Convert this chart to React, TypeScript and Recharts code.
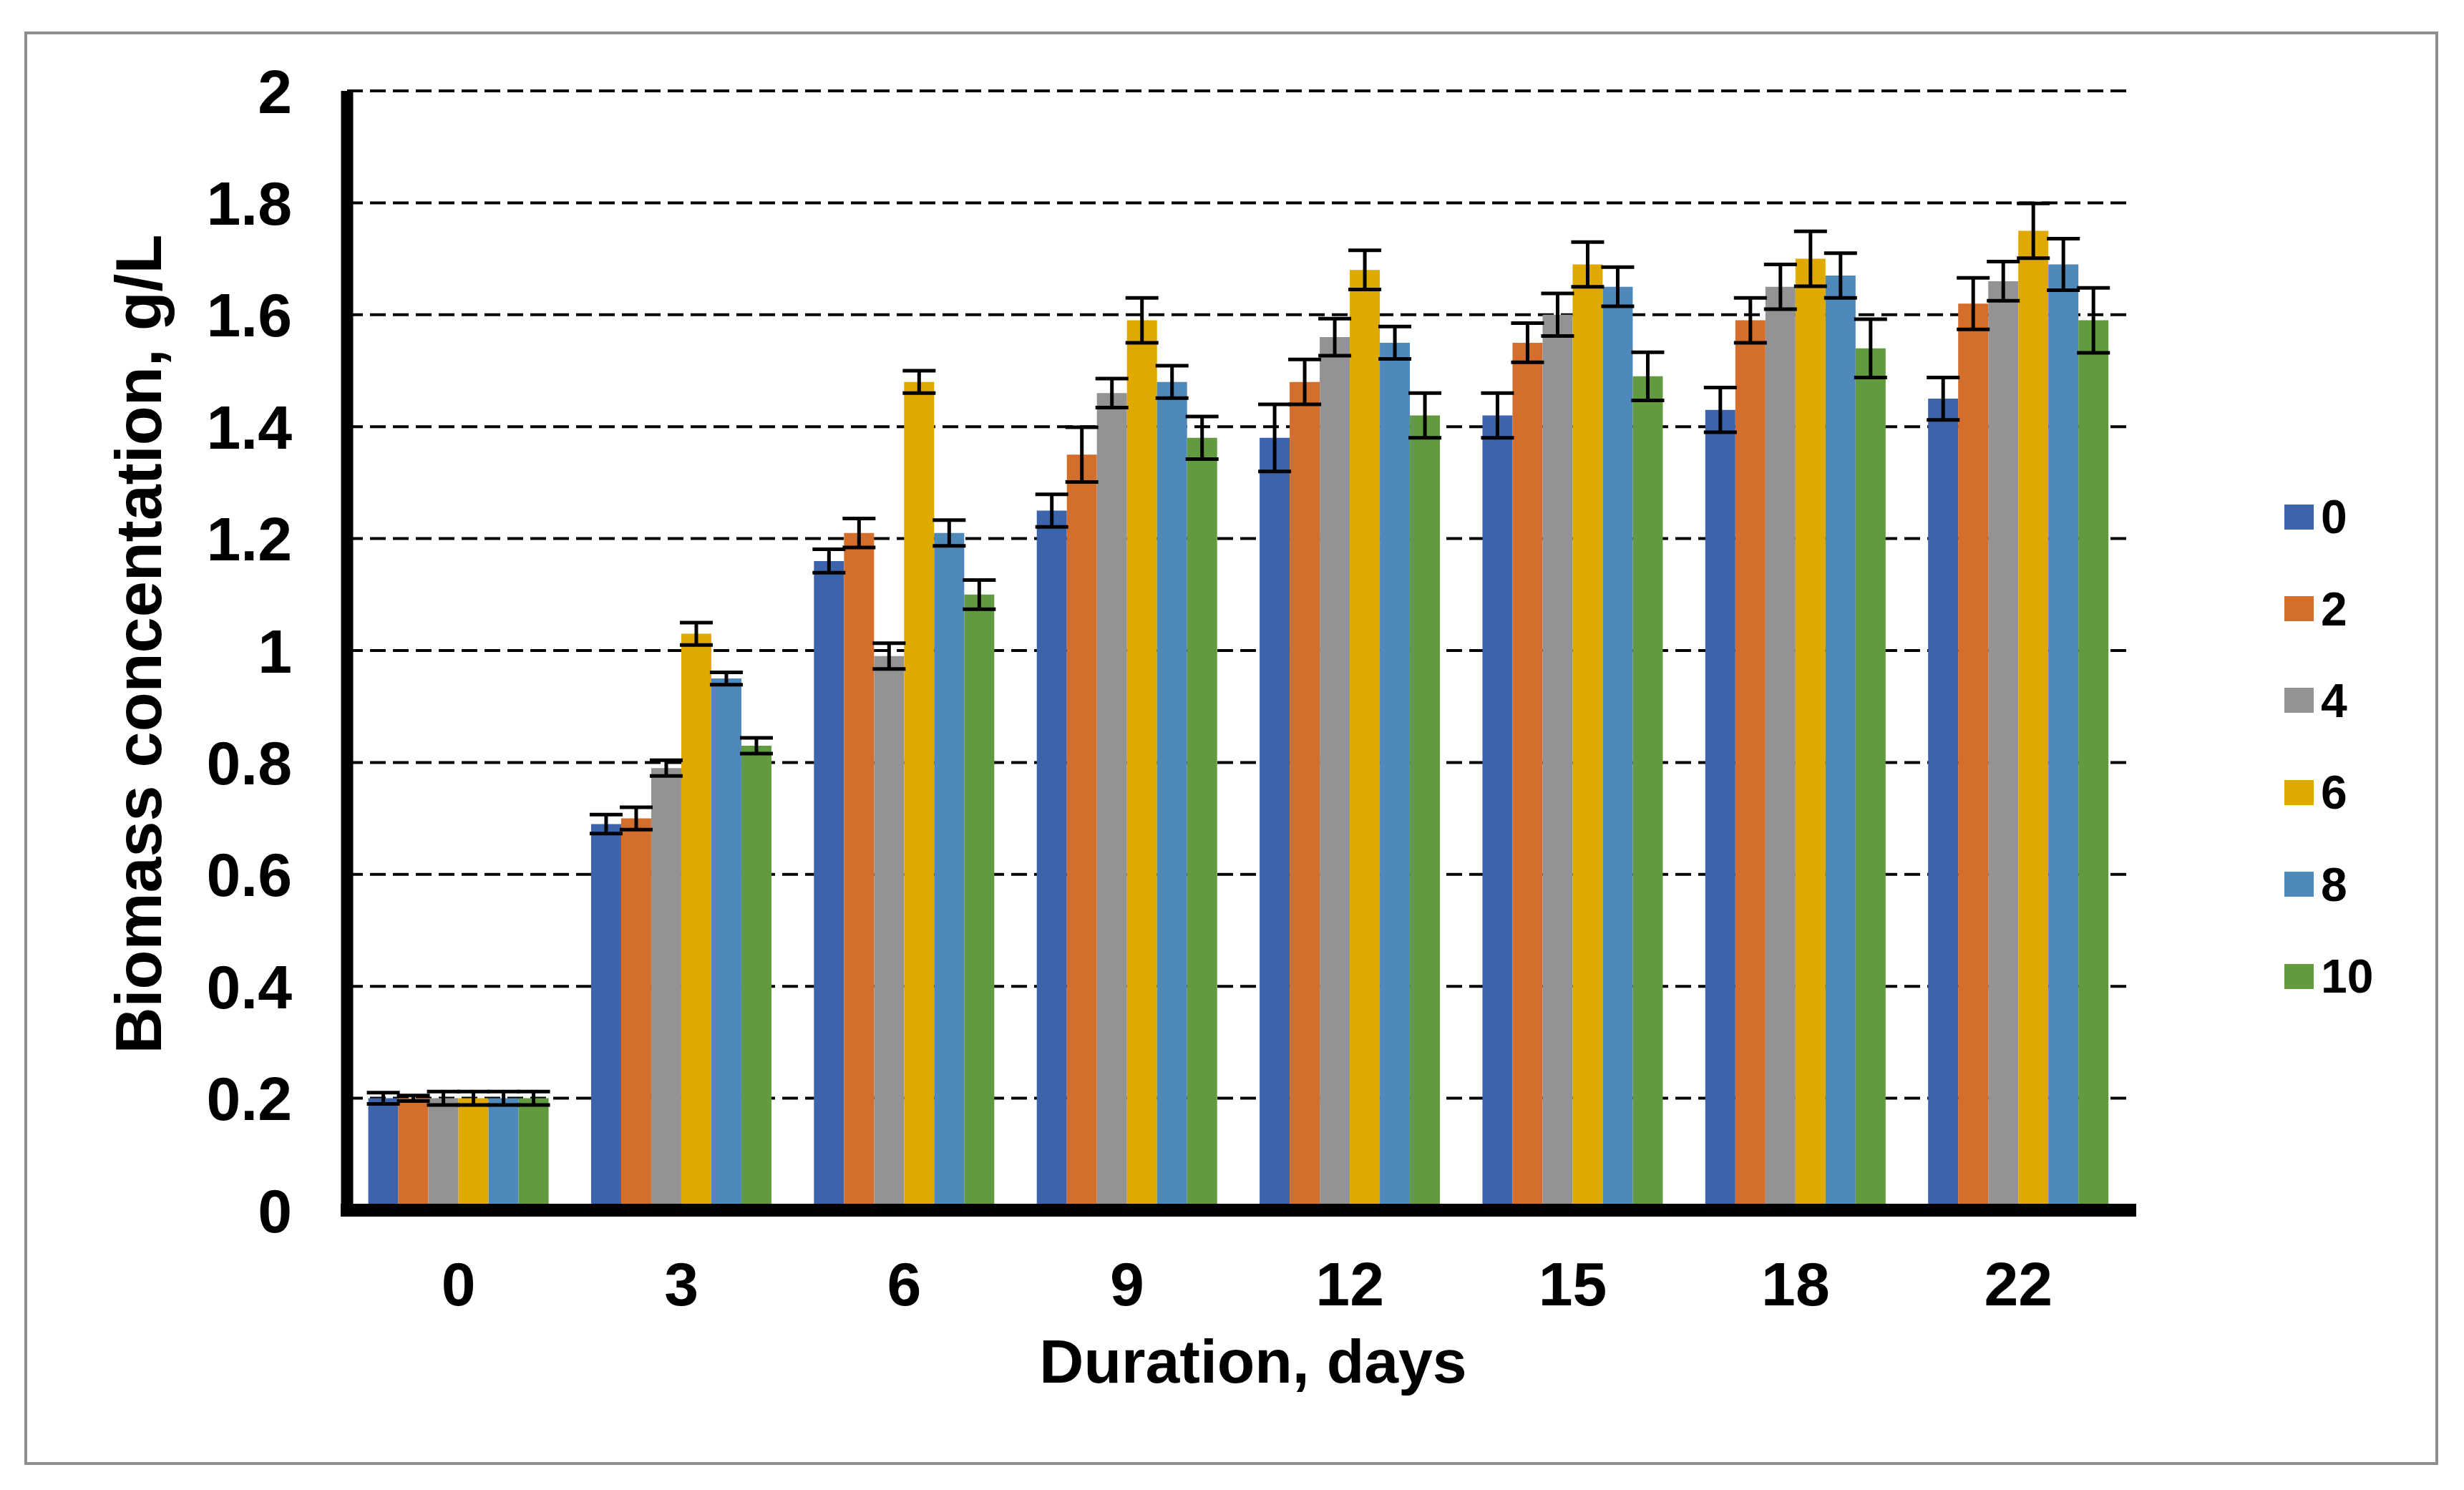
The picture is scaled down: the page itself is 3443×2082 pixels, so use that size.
import React from 'react';
import { BarChart, Bar, XAxis, YAxis, CartesianGrid, ErrorBar, Legend, Label } from 'recharts';

// ---- data ----
const days = ['0', '3', '6', '9', '12', '15', '18', '22'];

const seriesNames = ['0', '2', '4', '6', '8', '10'];
const seriesColors = ['#3C64AC', '#D46E2C', '#939393', '#E0A900', '#4F89BC', '#629A3F'];

const s0 = [0.2, 0.69, 1.16, 1.25, 1.38, 1.42, 1.43, 1.45];
const s2 = [0.2, 0.70, 1.21, 1.35, 1.48, 1.55, 1.59, 1.62];
const s4 = [0.2, 0.79, 0.99, 1.46, 1.56, 1.60, 1.65, 1.66];
const s6 = [0.2, 1.03, 1.48, 1.59, 1.68, 1.69, 1.70, 1.75];
const s8 = [0.2, 0.95, 1.21, 1.48, 1.55, 1.65, 1.67, 1.69];
const s10 = [0.2, 0.83, 1.10, 1.38, 1.42, 1.49, 1.54, 1.59];

const e0 = [0.010, 0.017, 0.021, 0.029, 0.060, 0.040, 0.040, 0.038];
const e2 = [0.005, 0.020, 0.026, 0.049, 0.040, 0.035, 0.040, 0.046];
const e4 = [0.012, 0.014, 0.023, 0.026, 0.033, 0.038, 0.040, 0.035];
const e6 = [0.012, 0.020, 0.020, 0.040, 0.035, 0.040, 0.049, 0.049];
const e8 = [0.012, 0.011, 0.023, 0.029, 0.029, 0.035, 0.040, 0.046];
const e10 = [0.012, 0.014, 0.026, 0.038, 0.040, 0.043, 0.052, 0.058];

const yTicks = [0, 0.2, 0.4, 0.6, 0.8, 1, 1.2, 1.4, 1.6, 1.8, 2];

const xTitle = 'Duration, days';
const yTitle = 'Biomass concentation, g/L';

const values = [s0, s2, s4, s6, s8, s10];
const errors = [e0, e2, e4, e6, e8, e10];

const data = days.map((d, i) => {
  const row: Record<string, number | string> = { day: d };
  seriesNames.forEach((n, k) => {
    row['v' + n] = values[k][i];
    row['e' + n] = errors[k][i];
  });
  return row;
});

const FONT = '"Liberation Sans", Arial, Helvetica, sans-serif';

const LegendContent = () => (
  <div style={{ display: 'flex', flexDirection: 'column' }}>
    {seriesNames.map((n, k) => (
      <div key={n} style={{ height: 128.4, display: 'flex', alignItems: 'center' }}>
        <div style={{ width: 41, height: 35, background: seriesColors[k], marginRight: 10 }} />
        <span style={{ fontFamily: FONT, fontWeight: 700, fontSize: 66, lineHeight: 1, color: '#000' }}>{n}</span>
      </div>
    ))}
  </div>
);

export default function App() {
  return (
    <div style={{ position: 'fixed', left: 0, top: 0, width: 3443, height: 2082, background: '#fff', overflow: 'hidden' }}>
      <BarChart
        width={3443}
        height={2082}
        data={data}
        margin={{ top: 127, right: 467, bottom: 291, left: 385 }}
        barCategoryGap="9.5%"
        barGap={0}
      >
        <CartesianGrid vertical={false} stroke="#000" strokeWidth={4} strokeDasharray="22 10" />
        <XAxis
          dataKey="day"
          height={100}
          axisLine={{ stroke: '#000', strokeWidth: 18, strokeLinecap: 'square' }}
          tickLine={false}
          tickSize={0}
          tickMargin={72}
          tick={{ fill: '#000', fontSize: 86, fontWeight: 700, fontFamily: FONT }}
          interval={0}
        >
          <Label
            content={() => (
              <text x={1751} y={1932} textAnchor="middle" fill="#000" fontSize={86} fontWeight={700} fontFamily={FONT}>
                {xTitle}
              </text>
            )}
          />
        </XAxis>
        <YAxis
          width={100}
          domain={[0, 2]}
          ticks={yTicks}
          interval={0}
          axisLine={{ stroke: '#000', strokeWidth: 17 }}
          tickLine={false}
          tickSize={0}
          tickMargin={77}
          tick={{ fill: '#000', fontSize: 86, fontWeight: 700, fontFamily: FONT }}
        >
          <Label
            content={() => (
              <text
                x={225}
                y={900}
                transform="rotate(-90, 225, 900)"
                textAnchor="middle"
                fill="#000"
                fontSize={90}
                fontWeight={700}
                fontFamily={FONT}
              >
                {yTitle}
              </text>
            )}
          />
        </YAxis>
        <Legend
          layout="vertical"
          align="center"
          verticalAlign="middle"
          content={<LegendContent />}
          wrapperStyle={{ left: 3192, top: 658, width: 220, height: 780 }}
        />
        {seriesNames.map((n, k) => (
          <Bar key={n} dataKey={'v' + n} name={n} fill={seriesColors[k]} isAnimationActive={false}>
            <ErrorBar dataKey={'e' + n} width={23} stroke="#000" strokeWidth={5} isAnimationActive={false} />
          </Bar>
        ))}
      </BarChart>
      <div
        style={{
          position: 'absolute',
          left: 34,
          top: 44,
          width: 3373,
          height: 2003,
          boxSizing: 'border-box',
          border: '4px solid #8e8e8e',
          pointerEvents: 'none',
        }}
      />
    </div>
  );
}
